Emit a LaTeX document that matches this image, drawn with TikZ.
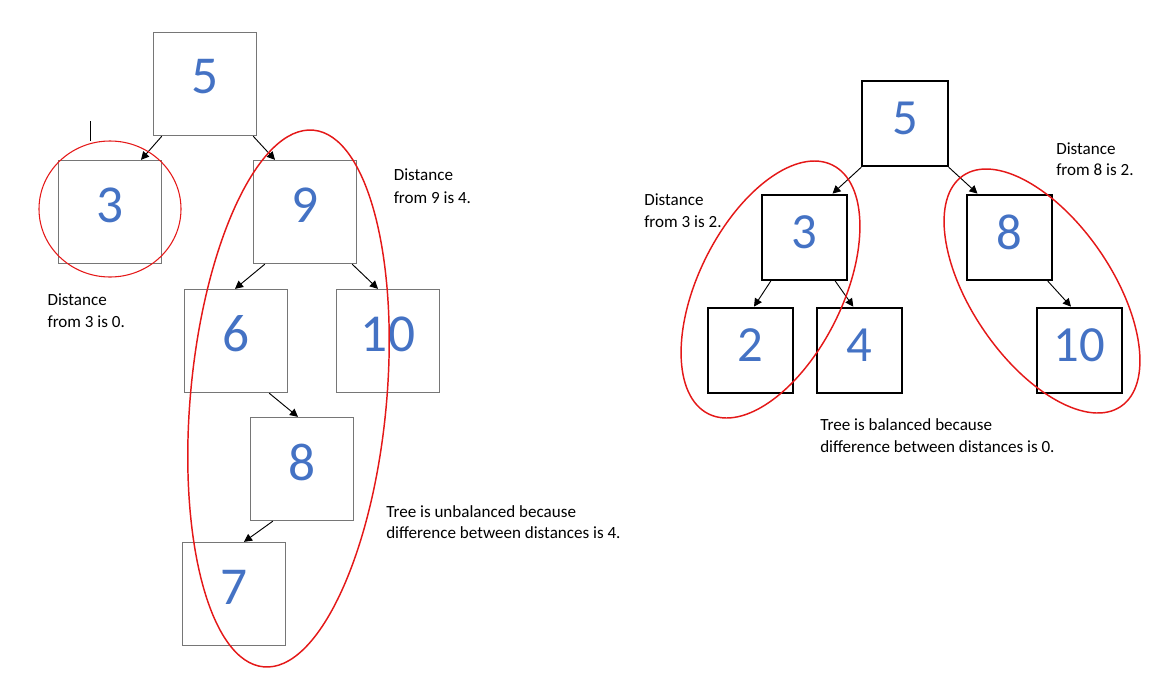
\documentclass[tikz,border=0pt]{standalone}
\usepackage{fontspec}
\setmainfont{Carlito}
\usetikzlibrary{arrows.meta,calc}
\definecolor{numblue}{RGB}{68,114,196}
\definecolor{boxgray}{RGB}{118,118,118}
\definecolor{ringred}{RGB}{228,24,24}
\newcommand\dgL[1]{\raisebox{5.2pt}[\height][\depth]{#1}}
\newcommand\dgR[1]{\raisebox{3.6pt}[\height][\depth]{#1}}
\tikzset{
  lbox/.style={draw=boxgray, line width=1.2pt, minimum size=77pt, inner sep=0pt,
    text=numblue, font=\fontsize{40}{40}\selectfont},
  rbox/.style={draw=black, line width=1.5pt, minimum size=64pt, inner sep=0pt,
    text=numblue, font=\fontsize{38}{38}\selectfont},
  edge/.style={draw=black, line width=0.7pt, -{Triangle[length=6pt,width=6pt]}},
  ring/.style={draw=ringred, line width=1.1pt},
  thinring/.style={draw=ringred, line width=0.8pt},
  note/.style={anchor=base west, inner sep=0pt, font=\fontsize{12.8}{15}\selectfont, text=black}
}
\begin{document}
\begin{tikzpicture}[x=0.75pt,y=-0.75pt]
\useasboundingbox (0,0) rectangle (1160,690);
% ---------- left tree ----------
\node[lbox] (L5) at (205,84) {\dgL{5}};
\node[lbox] (L3) at (110,212) {\dgL{3}};
\node[lbox] (L9) at (305,212) {\dgL{9}};
\node[lbox] (L6) at (236,341) {\dgL{6}};
\node[lbox] (L10) at (388,341) {\dgL{10}};
\node[lbox] (L8) at (302,469) {\dgL{8}};
\node[lbox] (L7) at (234,594) {\dgL{7}};
\draw[edge] ($(L5.south west)+(9,0)$) -- ($(L3.north)+(31,0)$);
\draw[edge] ($(L5.south east)+(-4,0)$) -- ($(L9.north)+(-30,0)$);
\draw[edge] ($(L9.south west)+(12,0)$) -- ($(L6.north)+(-1,0)$);
\draw[edge] ($(L9.south east)+(-5,0)$) -- ($(L10.north)+(-10,0)$);
\draw[edge] ($(L6.south east)+(-19,0)$) -- ($(L8.north)+(-4,0)$);
\draw[edge] ($(L8.south west)+(23,0)$) -- ($(L7.north)+(10,0)$);
% stray mark
\coordinate (m1) at (90.5,121);
\coordinate (m2) at (90.5,141);
\draw[black, line width=0.75pt] (m1) -- (m2);
% rings
\draw[thinring] (110,209) ellipse [x radius=71, y radius=68];
\draw[ring, rotate around={84.7:(288.5,398.5)}] (288.5,398.5) ellipse [x radius=269.5, y radius=98];
% notes
\node[note] (t9a) at (393.5,180.7) {Distance};
\node[note] (t9b) at (393.5,203) {from 9 is 4.};
\node[note] (t3a) at (47.3,305.7) {Distance};
\node[note] (t3b) at (47.3,327.7) {from 3 is 0.};
\node[note] (tua) at (386,517.3) {Tree is unbalanced because};
\node[note] (tub) at (386,538.7) {difference between distances is 4.};
% ---------- right tree ----------
\node[rbox] (R5) at (905,123.5) {\dgR{5}};
\node[rbox] (R3) at (804.5,237.3) {\dgR{3}};
\node[rbox] (R8) at (1009.5,237.3) {\dgR{8}};
\node[rbox] (R2) at (750.5,350.3) {\dgR{2}};
\node[rbox] (R4) at (859.3,350.3) {\dgR{4}};
\node[rbox] (R10) at (1079.5,350.3) {\dgR{10}};
\draw[edge] (R5.south west) -- ($(R3.north)+(28,0)$);
\draw[edge] (R5.south east) -- ($(R8.north)+(-32,0)$);
\draw[edge] ($(R3.south west)+(10,0)$) -- ($(R2.north)+(3.5,0)$);
\draw[edge] ($(R3.south east)+(-13,0)$) -- ($(R4.north)+(-6,0)$);
\draw[edge] ($(R8.south east)+(-5.5,0)$) -- ($(R10.north)+(-8.5,0)$);
\draw[ring, rotate around={63.5:(770.5,289.5)}] (770.5,289.5) ellipse [x radius=139, y radius=72];
\draw[ring, rotate around={-55.6:(1042,291)}] (1042,291) ellipse [x radius=139.8, y radius=70.2];
\node[note] (r3a) at (644,205) {Distance};
\node[note] (r3b) at (644,227.3) {from 3 is 2.};
\node[note] (r8a) at (1056,154) {Distance};
\node[note] (r8b) at (1056,175.7) {from 8 is 2.};
\node[note] (rba) at (820,430.7) {Tree is balanced because};
\node[note] (rbb) at (820,452.7) {difference between distances is 0.};
\end{tikzpicture}
\end{document}
